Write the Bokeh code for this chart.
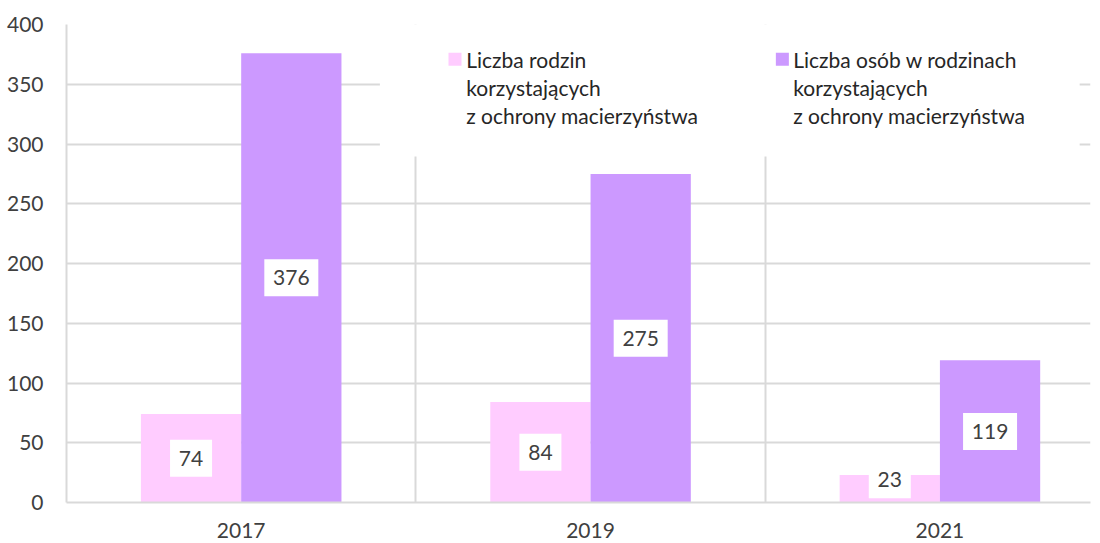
from bokeh.plotting import figure
from bokeh.models import (ColumnDataSource, Range1d, FixedTicker, LabelSet, Label,
                          BoxAnnotation)
from bokeh.core.properties import value
from bokeh.embed import file_html
from bokeh.resources import INLINE

# ---- data ----
years = ["2017", "2019", "2021"]
families = [74, 84, 23]
persons = [376, 275, 119]
series_names = [
    "Liczba rodzin\nkorzystających\nz ochrony macierzyństwa",
    "Liczba osób w rodzinach\nkorzystających\nz ochrony macierzyństwa",
]
y_ticks = [0, 50, 100, 150, 200, 250, 300, 350, 400]

# ---- style ----
PINK = "#FFCCFF"
PURPLE = "#CC99FF"
GRID = "#D9D9D9"
TXT = "#404040"
FONT = "Lato"

centers = [i + 0.5 for i in range(len(years))]
bw = 0.287
off = bw / 2

src = ColumnDataSource(dict(
    xc=centers,
    xa=[c - off for c in centers],
    xb=[c + off for c in centers],
    fam=families,
    per=persons,
    fam_lbl=[str(v) for v in families],
    per_lbl=[str(v) for v in persons],
    fam_y=[max(v / 2, 19) for v in families],
    per_y=[max(v / 2, 19) for v in persons],
    fam_w=[18 + 12 * len(str(v)) for v in families],
    per_w=[18 + 12 * len(str(v)) for v in persons],
))

p = figure(width=1092, height=541, x_range=Range1d(0, 2.931), y_range=Range1d(0, 400),
           output_backend="svg", toolbar_location=None,
           min_border_left=66, min_border_right=2, min_border_top=24, min_border_bottom=39)
p.outline_line_color = None
p.background_fill_color = "white"

# grids
p.ygrid.ticker = FixedTicker(ticks=y_ticks)
p.ygrid.grid_line_color = GRID
p.ygrid.grid_line_width = 2
p.xgrid.ticker = FixedTicker(ticks=[1, 2])
p.xgrid.grid_line_color = GRID
p.xgrid.grid_line_width = 2

# axes
p.yaxis.ticker = FixedTicker(ticks=y_ticks)
p.xaxis.ticker = FixedTicker(ticks=centers)
p.xaxis.major_label_overrides = {c: y for c, y in zip(centers, years)}
for ax in (p.xaxis[0], p.yaxis[0]):
    ax.axis_line_color = GRID
    ax.axis_line_width = 2
    ax.major_tick_line_color = None
    ax.minor_tick_line_color = None
    ax.major_label_text_font = FONT
    ax.major_label_text_font_size = "21px"
    ax.major_label_text_color = TXT
p.yaxis.major_label_standoff = 17
p.xaxis.major_label_standoff = 14

# bars
p.vbar(x="xa", top="fam", width=bw, source=src, fill_color=PINK, line_color=None)
p.vbar(x="xb", top="per", width=bw, source=src, fill_color=PURPLE, line_color=None)

# data labels (white boxes + text)
for xcol, ycol, tcol, wcol in (("xa", "fam_y", "fam_lbl", "fam_w"),
                               ("xb", "per_y", "per_lbl", "per_w")):
    p.rect(x=xcol, y=ycol, width=wcol, height=37, width_units="screen",
           height_units="screen", source=src, fill_color="white", line_color=None)
    p.add_layout(LabelSet(x=xcol, y=ycol, text=tcol, source=src, text_align="center",
                          text_baseline="middle", text_font=value(FONT),
                          text_font_size=value("21px"), text_color=value(TXT)))

# legend (white backdrop covering the grid, as in the original)
p.add_layout(BoxAnnotation(left=0.897, right=2.90, bottom=289.5, top=None,
                           fill_color="white", fill_alpha=1.0, line_color=None,
                           level="underlay"))
leg_x = [1.112, 2.049]
leg_tx = [1.144, 2.080]
leg_top = 371.0
line_step = 23.4
p.scatter(x=leg_x, y=[leg_top, leg_top], marker="square", size=13,
          fill_color=[PINK, PURPLE], line_color=None)
for name, tx in zip(series_names, leg_tx):
    for j, line in enumerate(name.split("\n")):
        p.add_layout(Label(x=tx, y=leg_top - j * line_step, text=line,
                           text_font=FONT, text_font_size="21px", text_color="#262626",
                           text_align="left", text_baseline="middle"))

open("out.html", "w").write(file_html(p, INLINE))
